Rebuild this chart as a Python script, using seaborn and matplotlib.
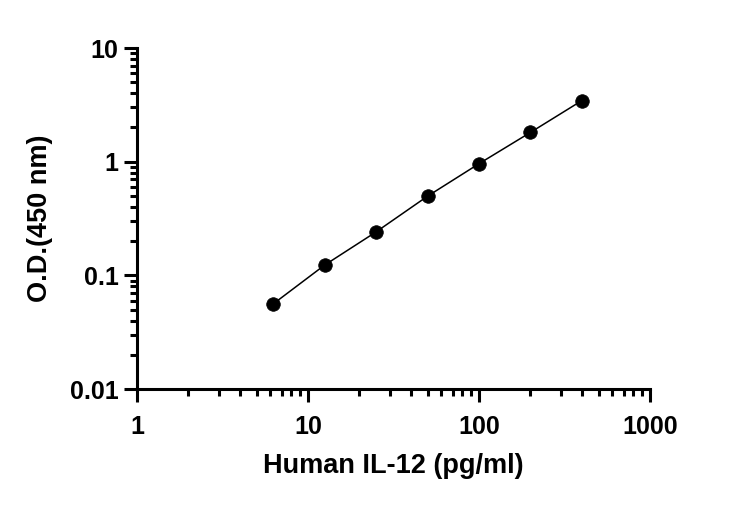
import matplotlib
matplotlib.use("Agg")
import matplotlib.pyplot as plt
import seaborn as sns
import pandas as pd
from matplotlib.ticker import LogLocator, FixedLocator, FixedFormatter, NullFormatter

# Data
concentration = [6.25, 12.5, 25, 50, 100, 200, 400]
od450 = [0.056, 0.123, 0.241, 0.497, 0.96, 1.81, 3.45]
x_ticks = [1, 10, 100, 1000]
x_tick_labels = ["1", "10", "100", "1000"]
y_ticks = [0.01, 0.1, 1, 10]
y_tick_labels = ["0.01", "0.1", "1", "10"]
x_label = "Human IL-12 (pg/ml)"
y_label = "O.D.(450 nm)"

sns.set_theme(style="ticks")
plt.rcParams['font.family'] = ['Liberation Sans', 'DejaVu Sans']
plt.rcParams['font.weight'] = 'bold'

df = pd.DataFrame({"conc": concentration, "od": od450})

fig = plt.figure(figsize=(7.3, 5.07), dpi=100)
ax = fig.add_axes([0.1877, 0.2327, 0.8904 - 0.1877, 0.9053 - 0.2327])

sns.lineplot(data=df, x="conc", y="od", ax=ax, color="black", linewidth=1.1,
             marker="o", markersize=9.8, markeredgecolor="black",
             markerfacecolor="black", markeredgewidth=0.5)

ax.set_xscale("log")
ax.set_yscale("log")
ax.set_xlim(1, 1000)
ax.set_ylim(0.01, 10)

ax.xaxis.set_major_locator(FixedLocator(x_ticks))
ax.xaxis.set_major_formatter(FixedFormatter(x_tick_labels))
ax.yaxis.set_major_locator(FixedLocator(y_ticks))
ax.yaxis.set_major_formatter(FixedFormatter(y_tick_labels))
ax.xaxis.set_minor_locator(LogLocator(base=10, subs=range(2, 10), numticks=20))
ax.yaxis.set_minor_locator(LogLocator(base=10, subs=range(2, 10), numticks=20))
ax.xaxis.set_minor_formatter(NullFormatter())
ax.yaxis.set_minor_formatter(NullFormatter())

sns.despine(ax=ax)
for s in ["left", "bottom"]:
    ax.spines[s].set_linewidth(2.2)
    ax.spines[s].set_color("black")

ax.tick_params(axis="both", which="major", length=9.4, width=2.2, color="black",
               labelsize=18, labelcolor="black")
ax.tick_params(axis="x", which="major", pad=9.5)
ax.tick_params(axis="y", which="major", pad=4)
ax.tick_params(axis="both", which="minor", length=5, width=2.2, color="black")
for lab in ax.get_xticklabels() + ax.get_yticklabels():
    lab.set_fontweight("bold")

ax.set_xlabel(x_label, fontsize=19.5, fontweight="bold", color="black", labelpad=10)
ax.set_ylabel(y_label, fontsize=19.5, fontweight="bold", color="black", labelpad=12)

fig.savefig("out.png", dpi=100, facecolor="white")
